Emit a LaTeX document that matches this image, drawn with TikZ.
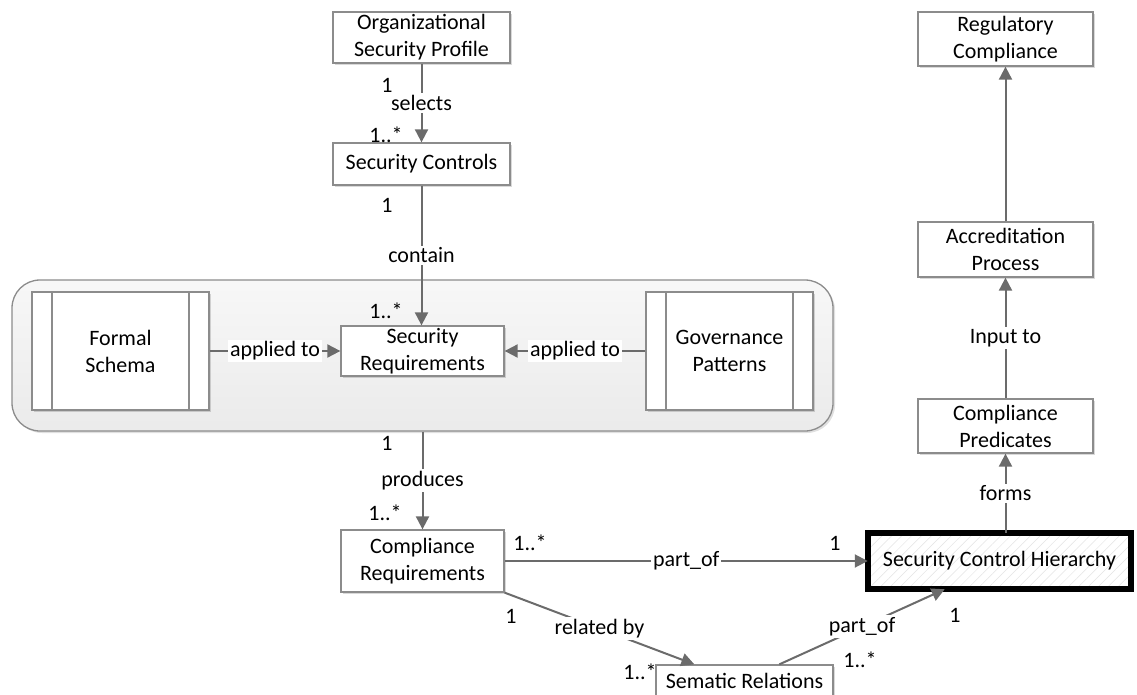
\documentclass[tikz,border=0pt]{standalone}
\usepackage{fontspec}
\setmainfont{Carlito}
\usetikzlibrary{arrows.meta,shadows,patterns.meta}

\definecolor{edgegray}{HTML}{8C8C8C}
\definecolor{linkgray}{HTML}{6B6B6B}
\definecolor{groupbg}{HTML}{F4F4F4}

\begin{document}
\begin{tikzpicture}[x=1pt,y=-1pt,
  font=\fontsize{22}{27}\selectfont,
  box/.style={draw=edgegray, line width=1.3pt, fill=white, align=center,
    inner sep=0pt,
    drop shadow={shadow xshift=2pt, shadow yshift=-2pt, fill=black, opacity=0.15}},
  procbox/.style={box,
    path picture={
      \draw[edgegray, line width=1.3pt]
        ([xshift=20pt]path picture bounding box.north west) --
        ([xshift=20pt]path picture bounding box.south west)
        ([xshift=-20pt]path picture bounding box.north east) --
        ([xshift=-20pt]path picture bounding box.south east);}},
  groupbox/.style={draw=edgegray, line width=1.3pt, rounded corners=28pt,
    top color=white!97!black, bottom color=white!92!black,
    drop shadow={shadow xshift=2pt, shadow yshift=-2pt, fill=black, opacity=0.12}},
  keybox/.style={draw=black, line width=6pt, align=center, inner sep=0pt,
    preaction={fill=white},
    pattern={Lines[angle=45,distance=7pt,line width=0.5pt]}, pattern color=gray!22},
  link/.style={draw=linkgray, line width=2pt,
    -{Triangle[length=13pt,width=13pt]}},
  plain/.style={draw=linkgray, line width=2pt},
  lbl/.style={fill=white, inner sep=2pt},
  mult/.style={inner sep=0pt}
]
\useasboundingbox (0,0) rectangle (1137,695);

% security requirement group
\node[groupbox, minimum width=821pt, minimum height=151pt] (grp) at (422.5,355.5) {};

% boxes
\node[box, minimum width=177pt, minimum height=51pt] (org) at (421.5,37.5)
  {Organizational\\Security Profile};
\node[box, minimum width=177pt, minimum height=42pt] (ctrl) at (421.5,164)
  {Security Controls};
\node[box, minimum width=163pt, minimum height=50pt] (sreq) at (422.5,351)
  {Security\\Requirements};
\node[procbox, minimum width=177pt, minimum height=118pt] (formal) at (120.5,351)
  {Formal\\Schema};
\node[procbox, minimum width=167pt, minimum height=118pt] (gov) at (729.5,351)
  {Governance\\Patterns};
\node[box, minimum width=163pt, minimum height=62pt] (creq) at (422.5,561)
  {Compliance\\Requirements};
\node[keybox, minimum width=263pt, minimum height=56pt] (sch) at (999.5,561)
  {Security Control Hierarchy};
\node[box, minimum width=177pt, minimum height=32pt] (sem) at (744.5,681)
  {Sematic Relations};
\node[box, minimum width=175pt, minimum height=54pt] (cpred) at (1005.5,426)
  {Compliance\\Predicates};
\node[box, minimum width=175pt, minimum height=55pt] (accr) at (1005.5,249.5)
  {Accreditation\\Process};
\node[box, minimum width=175pt, minimum height=54pt] (reg) at (1005.5,39)
  {Regulatory\\Compliance};

% connectors
\draw[link] (org.south) -- node[lbl]{selects} (ctrl.north);
\draw[link] (ctrl.south) -- node[lbl]{contain} (ctrl.south |- sreq.north);
\draw[link] (formal.east) -- node[lbl]{applied to} (sreq.west);
\draw[link] (gov.west) -- node[lbl]{applied to} (sreq.east);
\draw[link] (grp.south) -- node[lbl]{produces} (grp.south |- creq.north);
\draw[link] (creq.east) -- node[lbl]{part\_of} (creq.east -| sch.west);
\draw[link] (creq.south east) -- node[lbl]{related by} ([xshift=39pt]sem.north west);
\draw[link] ([xshift=124pt]sem.north west) -- node[lbl]{part\_of} ([xshift=77pt]sch.south west);
\draw[link] (cpred.south |- sch.north) -- node[lbl]{forms} (cpred.south);
\draw[link] (cpred.north) -- node[lbl]{Input to} (accr.south);
\draw[link] (accr.north) -- (reg.south);

% multiplicities
\node[mult] (m1) at (387,85) {1};
\node[mult] (m2) at (386,135) {1..*};
\node[mult] (m3) at (387,205) {1};
\node[mult] (m4) at (386,311) {1..*};
\node[mult] (m5) at (387,443) {1};
\node[mult] (m6) at (385,513) {1..*};
\node[mult] (m7) at (530,543) {1..*};
\node[mult] (m8) at (835,543) {1};
\node[mult] (m9) at (511,616) {1};
\node[mult] (m10) at (640,672) {1..*};
\node[mult] (m11) at (860,660) {1..*};
\node[mult] (m12) at (955,615) {1};
\end{tikzpicture}
\end{document}
